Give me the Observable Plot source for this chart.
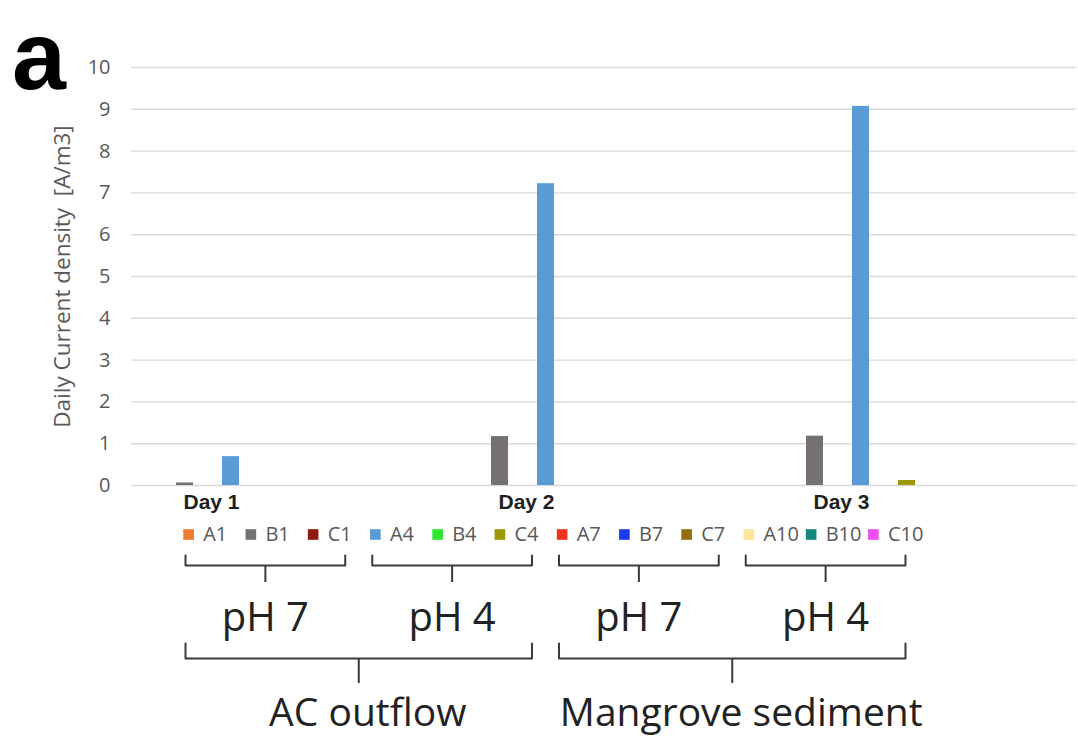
<!DOCTYPE html>
<html><head><meta charset="utf-8">
<script src="https://cdn.jsdelivr.net/npm/d3@7"></script>
<script src="https://cdn.jsdelivr.net/npm/@observablehq/plot@0.6"></script>
<style>
html,body{margin:0;padding:0;background:#fff;}
#wrap{position:relative;width:1078px;height:736px;overflow:hidden;}
#wrap svg{display:block;}
#panel{position:absolute;left:12px;top:0;font:bold 97px "Liberation Sans",Arial,sans-serif;line-height:normal;color:#000;}
</style></head><body>
<div id="wrap"><div id="chart"></div><div id="anno"></div><div id="panel">a</div></div>
<script>
// ---- data ----
const days = ["Day 1", "Day 2", "Day 3"];
const series = ["A1","B1","C1","A4","B4","C4","A7","B7","C7","A10","B10","C10"];
const colors = ["#ED7D31","#767171","#8E1B0E","#5B9BD5","#2EE62E","#9A9A00","#E8341C","#1A3CF0","#94700C","#FFE699","#14897B","#F04EF0"];
const day1 = [0, 0.06, 0, 0.69, 0, 0, 0, 0, 0, 0, 0, 0];
const day2 = [0, 1.17, 0, 7.22, 0, 0, 0, 0, 0, 0, 0, 0];
const day3 = [0, 1.18, 0, 9.07, 0, 0.12, 0, 0, 0, 0, 0, 0];
const yTicks = [0, 1, 2, 3, 4, 5, 6, 7, 8, 9, 10];
const yLabel = "Daily Current density\u00a0 [A/m3]";
const phLabels = ["pH 7", "pH 4", "pH 7", "pH 4"];
const sources = ["AC outflow", "Mangrove sediment"];

const values = [day1, day2, day3];
const rows = days.flatMap((d, i) => series.map((s, j) => ({day: d, series: s, value: values[i][j]})));

// ---- main bar chart ----
const chart = Plot.plot({
  width: 1078, height: 520,
  marginLeft: 131, marginRight: 2, marginTop: 67, marginBottom: 35,
  style: {fontFamily: "'Open Sans', sans-serif", fontSize: "20px", color: "#595959", background: "transparent"},
  fx: {domain: days, padding: 0, axis: null},
  x: {domain: series, paddingInner: 0.25, paddingOuter: 0.827, axis: null},
  y: {domain: [0, 10], ticks: yTicks, tickSize: 0, tickPadding: 21, label: null},
  color: {domain: series, range: colors},
  marks: [
    Plot.ruleY(yTicks, {stroke: "#d9d9d9", strokeWidth: 1.4}),
    Plot.barY(rows, {fx: "day", x: "series", y: "value", fill: "series"}),
    Plot.text(days, {fx: d => d, text: d => d, frameAnchor: "bottom-left", textAnchor: "middle", dx: 80, dy: 17,
      lineAnchor: "middle", fontFamily: "'Liberation Sans', Arial, sans-serif", fontWeight: "bold",
      fontSize: 21, fill: "#1f1f1f"}),
    Plot.text([yLabel], {fx: () => days[0], text: d => d, frameAnchor: "left", textAnchor: "middle", rotate: -90, dx: -69,
      lineAnchor: "middle", fontSize: 22.5, fill: "#595959"})
  ]
});
document.getElementById("chart").appendChild(chart);

// ---- legend + braces ----
const inset = 0.217;
const small = phLabels.map((label, g) => ({label, x1: 3 * g - 0.5 + inset, x2: 3 * g + 2.5 - inset, xm: 3 * g + 1}));
const big = sources.map((label, h) => ({label, x1: 6 * h - 0.5 + inset, x2: 6 * h + 5.5 - inset, xm: 6 * h + 2.5}));
const bracePts = (list, top, line) => list.flatMap((b, k) => [
  {x: b.x1, y: top, k}, {x: b.x1, y: line, k}, {x: b.x2, y: line, k}, {x: b.x2, y: top, k}
]);
const braceColor = "#3a3a3a";

const anno = Plot.plot({
  width: 1078, height: 216,
  marginLeft: 171.5, marginRight: 159.5, marginTop: 0, marginBottom: 0,
  style: {fontFamily: "'Open Sans', sans-serif", background: "transparent"},
  x: {domain: [-0.5, 11.5], axis: null},
  y: {domain: [0, 216], range: [0, 216], axis: null},
  color: {domain: series, range: colors},
  marks: [
    Plot.dot(series, {x: (d, i) => i, y: 14, fill: d => d, symbol: "square", r: 6, dx: -14.5}),
    Plot.text(series, {x: (d, i) => i, y: 14, text: d => d, textAnchor: "start", lineAnchor: "middle",
      fontSize: 20, fill: "#595959"}),
    Plot.line(bracePts(small, 35, 45), {x: "x", y: "y", z: "k", stroke: braceColor, strokeWidth: 2}),
    Plot.ruleX(small, {x: "xm", y1: 45, y2: 62, stroke: braceColor, strokeWidth: 2}),
    Plot.text(small, {x: "xm", y: 98, text: "label", fontSize: 40, lineAnchor: "middle", fill: "#222"}),
    Plot.line(bracePts(big, 123, 138), {x: "x", y: "y", z: "k", stroke: braceColor, strokeWidth: 2}),
    Plot.ruleX(big, {x: "xm", y1: 138, y2: 163, stroke: braceColor, strokeWidth: 2}),
    Plot.text(big, {x: "xm", y: 193, dx: 9, text: "label", fontSize: 39, lineAnchor: "middle", fill: "#222"})
  ]
});
document.getElementById("anno").appendChild(anno);
</script>
</body></html>
